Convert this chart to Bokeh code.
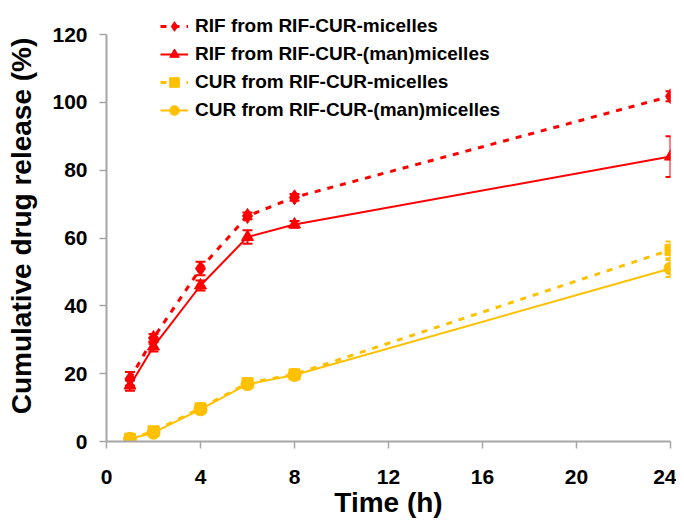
from bokeh.plotting import figure
from bokeh.models import ColumnDataSource, Whisker, TeeHead, Legend, LegendItem, FixedTicker, Range1d
from bokeh.embed import file_html
from bokeh.resources import INLINE

time_h = [1, 2, 4, 6, 8, 24]

rif_mic = [18.5, 30.5, 51.0, 66.5, 72.0, 101.8]
rif_mic_err = [2.0, 1.2, 2.0, 1.0, 1.0, 1.5]

rif_man = [16.5, 28.0, 46.0, 60.3, 64.0, 84.0]
rif_man_err = [1.5, 1.5, 1.5, 2.0, 1.0, 6.0]

cur_mic = [0.8, 3.0, 9.8, 17.2, 19.8, 56.5]
cur_mic_err = [0.5, 0.8, 0.8, 0.8, 0.8, 2.5]

cur_man = [0.8, 2.6, 9.5, 16.9, 19.6, 51.0]
cur_man_err = [0.5, 0.8, 0.8, 0.8, 0.8, 2.5]

labels = ["RIF from RIF-CUR-micelles", "RIF from RIF-CUR-(man)micelles",
          "CUR from RIF-CUR-micelles", "CUR from RIF-CUR-(man)micelles"]

RED = "#FF0000"
GOLD = "#FFC000"
FONT = "Liberation Sans"

p = figure(width=676, height=521, output_backend="svg", toolbar_location=None,
           x_range=Range1d(0, 24), y_range=Range1d(0, 127.08),
           min_border_left=106, min_border_right=6, min_border_top=10, min_border_bottom=80)
p.outline_line_color = None
p.xgrid.visible = False
p.ygrid.visible = False
p.background_fill_color = "white"

series = [
    (rif_mic, rif_mic_err, RED, "6 7", 3, "diamond", 15),
    (rif_man, rif_man_err, RED, "solid", 2, "triangle", 12),
    (cur_mic, cur_mic_err, GOLD, "6 7", 3, "square", 11),
    (cur_man, cur_man_err, GOLD, "solid", 2, "circle", 13),
]

items = []
for (vals, errs, col, dash, lw, mk, sz), lab in zip(series, labels):
    src = ColumnDataSource(dict(x=time_h, y=vals,
                                lo=[v - e for v, e in zip(vals, errs)],
                                hi=[v + e for v, e in zip(vals, errs)]))
    ln = p.line("x", "y", source=src, line_color=col, line_width=lw, line_dash=dash)
    w = Whisker(base="x", lower="lo", upper="hi", source=src, line_color=col, line_width=2,
                upper_head=TeeHead(size=10, line_color=col, line_width=2),
                lower_head=TeeHead(size=10, line_color=col, line_width=2))
    p.add_layout(w)
    sc = p.scatter("x", "y", source=src, marker=mk, size=sz, fill_color=col, line_color=col)
    items.append(LegendItem(label=lab, renderers=[ln, sc]))

legend = Legend(items=items, location=(54, 319), background_fill_alpha=0, border_line_color=None,
                label_text_font=FONT, label_text_font_style="bold", label_text_font_size="19px",
                label_text_color="black", glyph_width=28, glyph_height=24, spacing=4, padding=0,
                margin=0, label_standoff=7, label_height=24)
p.add_layout(legend, "center")

for ax in (p.xaxis, p.yaxis):
    ax.axis_line_color = "#A6A6A6"
    ax.axis_line_width = 2
    ax.major_tick_line_color = "#A6A6A6"
    ax.major_tick_line_width = 1.5
    ax.major_tick_out = 7
    ax.major_tick_in = 0
    ax.minor_tick_line_color = None
    ax.major_label_text_font = FONT
    ax.major_label_text_font_style = "bold"
    ax.major_label_text_font_size = "21px"
    ax.major_label_text_color = "black"
    ax.axis_label_text_font = FONT
    ax.axis_label_text_font_style = "bold"
    ax.axis_label_text_color = "black"

p.yaxis.bounds = (0, 120)
p.xaxis.ticker = FixedTicker(ticks=[0, 4, 8, 12, 16, 20, 24])
p.yaxis.ticker = FixedTicker(ticks=[0, 20, 40, 60, 80, 100, 120])
p.xaxis.axis_label = "Time (h)"
p.yaxis.axis_label = "Cumulative drug release (%)"
p.xaxis.axis_label_text_font_size = "28px"
p.yaxis.axis_label_text_font_size = "28px"
p.xaxis.major_label_standoff = 21
p.yaxis.major_label_standoff = 12
p.xaxis.axis_label_standoff = 0
p.yaxis.axis_label_standoff = 12

open("out.html", "w").write(file_html(p, INLINE))
